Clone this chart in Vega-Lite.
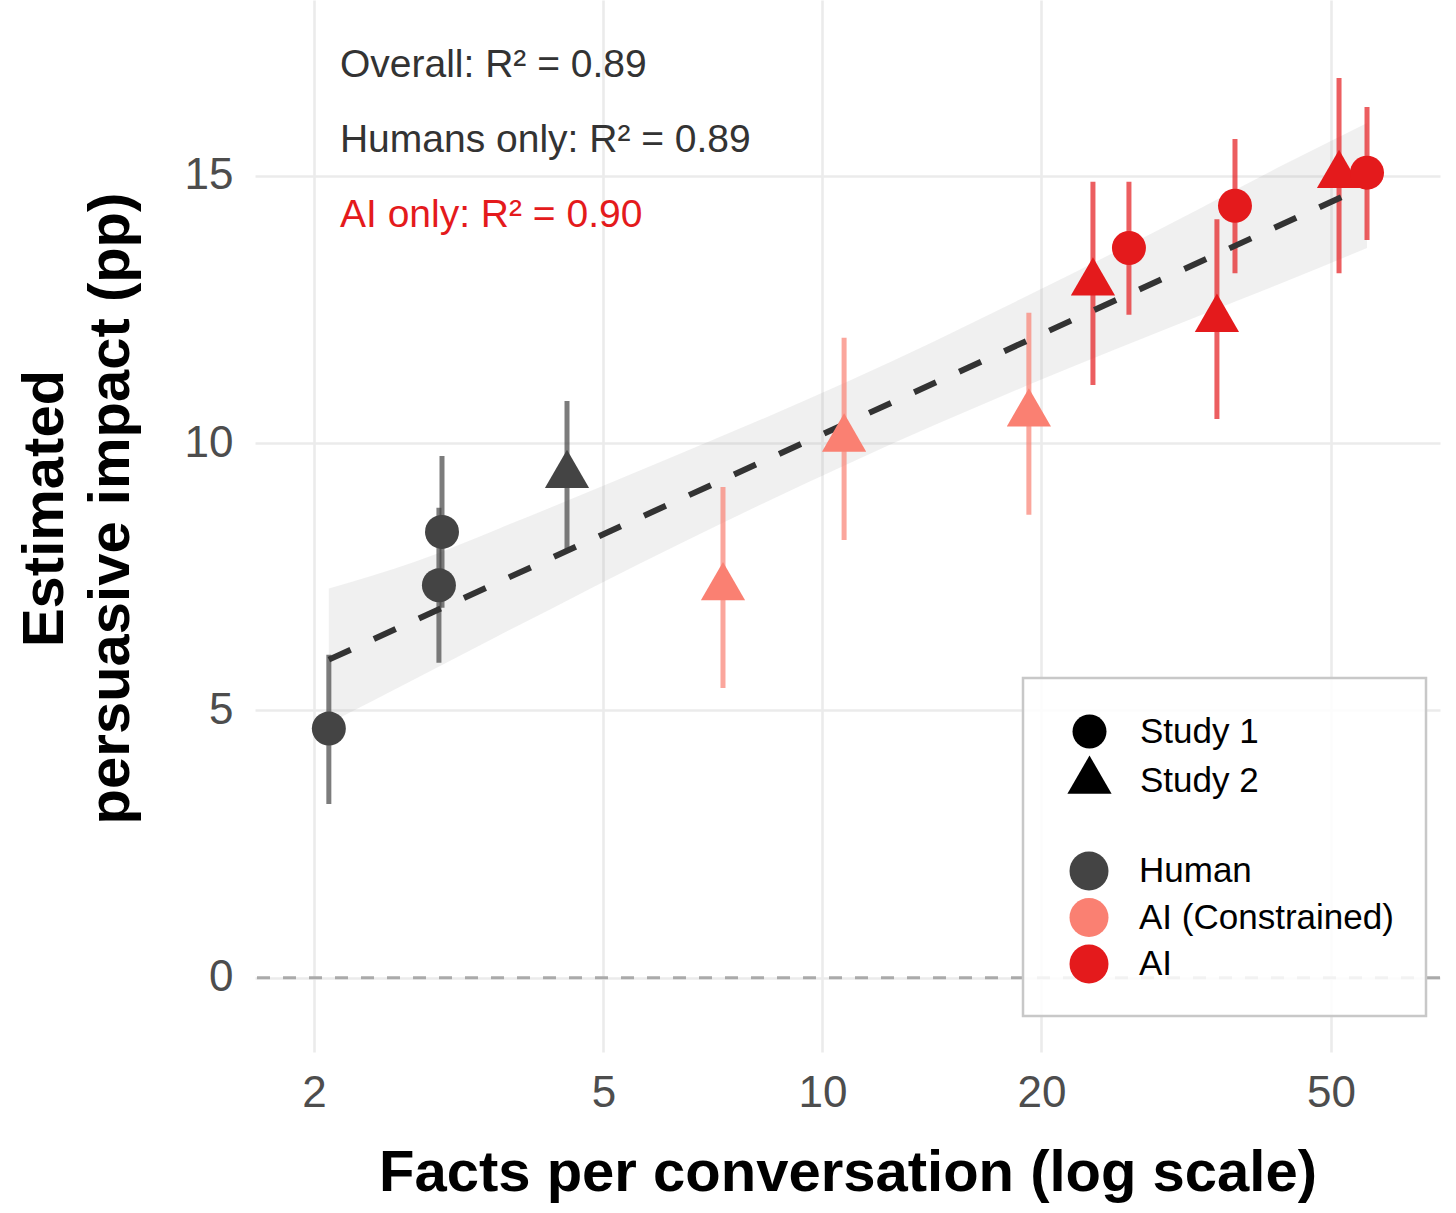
{
  "$schema": "https://vega.github.io/schema/vega-lite/v6.json",
  "width": 1185,
  "height": 1052,
  "autosize": {"type": "none"},
  "padding": {"left": 255, "top": 0, "right": 16, "bottom": 161},
  "background": "white",
  "config": {
    "view": {"stroke": null},
    "font": "Liberation Sans",
    "axis": {
      "domain": false,
      "ticks": false,
      "tickSize": 0,
      "grid": true,
      "gridColor": "#ebebeb",
      "gridWidth": 2.6,
      "labelFont": "Liberation Sans",
      "labelFontSize": 44,
      "labelColor": "#4d4d4d",
      "labelFlush": false,
      "labelOverlap": false,
      "titleFont": "Liberation Sans",
      "titleFontSize": 58,
      "titleFontWeight": "bold",
      "titleColor": "black"
    },
    "axisX": {"labelPadding": 19, "titlePadding": 29},
    "axisY": {"labelPadding": 22, "titlePadding": 44, "titleLineHeight": 66, "titleY": 508},
    "legend": {
      "labelFont": "Liberation Sans",
      "labelFontSize": 35,
      "labelColor": "black",
      "labelLimit": 1000,
      "titleLimit": 3000
    }
  },
  "datasets": {
    "pts": [
      {"facts": 2.097, "impact": 4.66, "lo": 3.25, "hi": 6.04, "group": "Human", "study": "Study 1"},
      {"facts": 2.971, "impact": 7.34, "lo": 5.89, "hi": 8.79, "group": "Human", "study": "Study 1"},
      {"facts": 3.0, "impact": 8.34, "lo": 6.92, "hi": 9.76, "group": "Human", "study": "Study 1"},
      {"facts": 4.456, "impact": 9.4, "lo": 8.0, "hi": 10.79, "group": "Human", "study": "Study 2"},
      {"facts": 7.3, "impact": 7.3, "lo": 5.42, "hi": 9.18, "group": "AI (Constrained)", "study": "Study 2"},
      {"facts": 10.71, "impact": 10.08, "lo": 8.19, "hi": 11.97, "group": "AI (Constrained)", "study": "Study 2"},
      {"facts": 19.22, "impact": 10.55, "lo": 8.66, "hi": 12.44, "group": "AI (Constrained)", "study": "Study 2"},
      {"facts": 23.54, "impact": 13.0, "lo": 11.09, "hi": 14.89, "group": "AI", "study": "Study 2"},
      {"facts": 26.38, "impact": 13.65, "lo": 12.4, "hi": 14.89, "group": "AI", "study": "Study 1"},
      {"facts": 34.85, "impact": 12.32, "lo": 10.45, "hi": 14.19, "group": "AI", "study": "Study 2"},
      {"facts": 36.9, "impact": 14.44, "lo": 13.18, "hi": 15.69, "group": "AI", "study": "Study 1"},
      {"facts": 51.29, "impact": 15.01, "lo": 13.18, "hi": 16.83, "group": "AI", "study": "Study 2"},
      {"facts": 56.04, "impact": 15.06, "lo": 13.8, "hi": 16.29, "group": "AI", "study": "Study 1"}
    ],
    "fit": [
      {"facts": 2.097, "impact": 5.95},
      {"facts": 56.04, "impact": 14.82}
    ],
    "band": [
      {"facts": 2.097, "lo": 4.76, "hi": 7.28},
      {"facts": 2.754, "lo": 5.59, "hi": 7.78},
      {"facts": 3.603, "lo": 6.41, "hi": 8.41},
      {"facts": 6.371, "lo": 8.12, "hi": 9.8},
      {"facts": 10.91, "lo": 9.63, "hi": 11.17},
      {"facts": 19.28, "lo": 11.1, "hi": 12.78},
      {"facts": 33.03, "lo": 12.39, "hi": 14.39},
      {"facts": 43.22, "lo": 13.02, "hi": 15.22},
      {"facts": 56.04, "lo": 13.65, "hi": 15.99}
    ],
    "notes": [
      {"facts": 2.172, "impact": 16.85, "label": "Overall: R² = 0.89", "who": "Overall"},
      {"facts": 2.172, "impact": 15.45, "label": "Humans only: R² = 0.89", "who": "Humans"},
      {"facts": 2.172, "impact": 14.04, "label": "AI only: R² = 0.90", "who": "AI"}
    ]
  },
  "layer": [
    {
      "data": {"name": "band"},
      "mark": {"type": "area", "color": "#999999", "opacity": 0.15, "interpolate": "monotone"},
      "encoding": {
        "x": {
          "field": "facts", "type": "quantitative",
          "scale": {"type": "log", "domain": [1.66, 70.6], "nice": false, "zero": false},
          "axis": {"values": [2, 5, 10, 20, 50], "format": "~g", "title": "Facts per conversation (log scale)"}
        },
        "y": {
          "field": "lo", "type": "quantitative",
          "scale": {"domain": [-1.39, 18.29], "nice": false, "zero": false},
          "axis": {"values": [0, 5, 10, 15], "title": ["Estimated", "persuasive impact (pp)"]}
        },
        "y2": {"field": "hi"}
      }
    },
    {
      "data": {"values": [{}]},
      "mark": {"type": "rule", "color": "#aaaaaa", "strokeWidth": 3, "strokeDash": [13, 13]},
      "encoding": {
        "y": {"datum": 0, "type": "quantitative", "scale": {"domain": [-1.39, 18.29], "nice": false, "zero": false},
              "axis": {"values": [0, 5, 10, 15], "title": ["Estimated", "persuasive impact (pp)"]}}
      }
    },
    {
      "data": {"name": "pts"},
      "mark": {"type": "rule", "strokeWidth": 5, "opacity": 0.7},
      "encoding": {
        "x": {"field": "facts", "type": "quantitative", "scale": {"type": "log", "domain": [1.66, 70.6], "nice": false, "zero": false},
              "axis": {"values": [2, 5, 10, 20, 50], "format": "~g", "title": "Facts per conversation (log scale)"}},
        "y": {"field": "lo", "type": "quantitative", "scale": {"domain": [-1.39, 18.29], "nice": false, "zero": false},
              "axis": {"values": [0, 5, 10, 15], "title": ["Estimated", "persuasive impact (pp)"]}},
        "y2": {"field": "hi"},
        "color": {
          "field": "group", "type": "nominal",
          "scale": {"domain": ["Human", "AI (Constrained)", "AI"], "range": ["#444444", "#FA8072", "#E41A1C"]},
          "legend": {
            "orient": "none", "legendX": 768, "legendY": 678,
            "title": "\u00a0\u00a0\u00a0\u00a0\u00a0\u00a0\u00a0\u00a0\u00a0", "titleFontSize": 138, "titlePadding": 3.5, "titleLimit": 3000,
            "padding": 32, "symbolType": "circle", "symbolSize": 1521, "symbolStrokeWidth": 0, "symbolOpacity": 1,
            "symbolOffset": 14.5, "labelOffset": 30.5, "rowPadding": 7.5,
            "strokeColor": "#c8c8c8", "fillColor": "rgba(255,255,255,0.85)", "zindex": 1,
            "encode": {"legend": {"update": {"strokeWidth": {"value": 2.5}}}}
          }
        }
      }
    },
    {
      "data": {"name": "fit"},
      "mark": {"type": "line", "color": "#333333", "strokeWidth": 6, "strokeDash": [24, 25.5]},
      "encoding": {
        "x": {"field": "facts", "type": "quantitative", "scale": {"type": "log", "domain": [1.66, 70.6], "nice": false, "zero": false},
              "axis": {"values": [2, 5, 10, 20, 50], "format": "~g", "title": "Facts per conversation (log scale)"}},
        "y": {"field": "impact", "type": "quantitative", "scale": {"domain": [-1.39, 18.29], "nice": false, "zero": false},
              "axis": {"values": [0, 5, 10, 15], "title": ["Estimated", "persuasive impact (pp)"]}}
      }
    },
    {
      "data": {"name": "pts"},
      "mark": {"type": "point", "filled": true, "opacity": 1, "size": 1156, "strokeWidth": 0},
      "encoding": {
        "x": {"field": "facts", "type": "quantitative", "scale": {"type": "log", "domain": [1.66, 70.6], "nice": false, "zero": false},
              "axis": {"values": [2, 5, 10, 20, 50], "format": "~g", "title": "Facts per conversation (log scale)"}},
        "y": {"field": "impact", "type": "quantitative", "scale": {"domain": [-1.39, 18.29], "nice": false, "zero": false},
              "axis": {"values": [0, 5, 10, 15], "title": ["Estimated", "persuasive impact (pp)"]}},
        "color": {
          "field": "group", "type": "nominal",
          "scale": {"domain": ["Human", "AI (Constrained)", "AI"], "range": ["#444444", "#FA8072", "#E41A1C"]},
          "legend": {
            "orient": "none", "legendX": 768, "legendY": 678,
            "title": "\u00a0\u00a0\u00a0\u00a0\u00a0\u00a0\u00a0\u00a0\u00a0", "titleFontSize": 138, "titlePadding": 3.5, "titleLimit": 3000,
            "padding": 32, "symbolType": "circle", "symbolSize": 1521, "symbolStrokeWidth": 0, "symbolOpacity": 1,
            "symbolOffset": 14.5, "labelOffset": 30.5, "rowPadding": 7.5,
            "strokeColor": "#c8c8c8", "fillColor": "rgba(255,255,255,0.85)", "zindex": 1,
            "encode": {"legend": {"update": {"strokeWidth": {"value": 2.5}}}}
          }
        },
        "shape": {
          "field": "study", "type": "nominal",
          "scale": {"domain": ["Study 1", "Study 2"], "range": ["circle", "M0,-1.501L-1.3,0.7506L1.3,0.7506Z"]},
          "legend": {
            "orient": "none", "legendX": 800, "legendY": 714, "title": null,
            "padding": 0, "symbolSize": 1156, "symbolStrokeWidth": 0, "symbolFillColor": "black", "symbolStrokeColor": "black",
            "symbolOpacity": 1, "symbolOffset": 17, "labelOffset": 33, "rowPadding": 4.5, "zindex": 2
          }
        }
      }
    },
    {
      "data": {"name": "notes"},
      "mark": {"type": "text", "align": "left", "baseline": "alphabetic", "fontSize": 39, "font": "Liberation Sans"},
      "encoding": {
        "x": {"field": "facts", "type": "quantitative", "scale": {"type": "log", "domain": [1.66, 70.6], "nice": false, "zero": false},
              "axis": {"values": [2, 5, 10, 20, 50], "format": "~g", "title": "Facts per conversation (log scale)"}},
        "y": {"field": "impact", "type": "quantitative", "scale": {"domain": [-1.39, 18.29], "nice": false, "zero": false},
              "axis": {"values": [0, 5, 10, 15], "title": ["Estimated", "persuasive impact (pp)"]}},
        "text": {"field": "label"},
        "color": {"condition": {"test": "datum.who === 'AI'", "value": "#E41A1C"}, "value": "#333333"}
      }
    }
  ]
}
